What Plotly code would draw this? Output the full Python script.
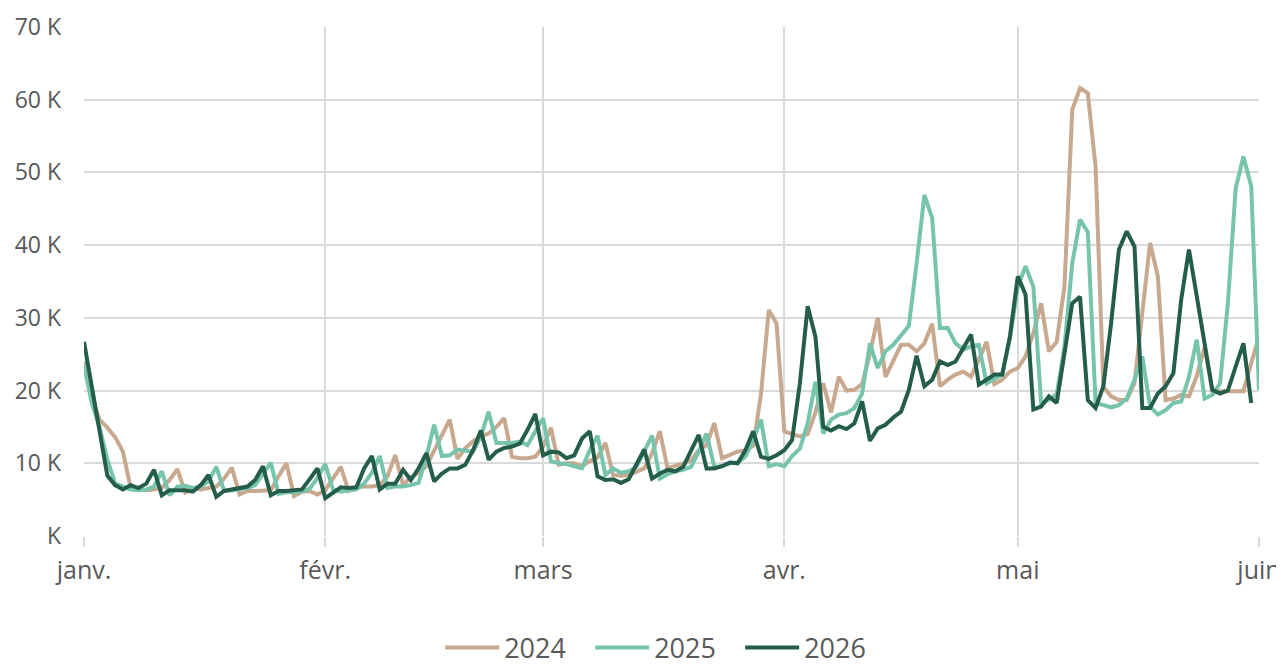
import pandas as pd
import plotly.graph_objects as go

# Daily values (thousands), plotted on a common Jan 1 – Jun 1 calendar
v2024 = [24.0, 19.0, 16.0, 14.9, 13.6, 11.6, 6.6, 6.4, 6.3, 6.4, 6.6, 7.7, 9.2, 6.0, 6.6, 6.4, 6.6, 6.8, 7.9, 9.4,
         5.7, 6.2, 6.2, 6.3, 6.3, 8.2, 10.0, 5.5, 6.1, 6.2, 5.7, 6.3, 7.9, 9.5, 6.2, 6.7, 6.8, 6.8, 7.0, 8.2,
         11.1, 7.0, 8.1, 8.7, 9.6, 11.8, 13.9, 16.0, 10.6, 12.1, 13.0, 13.7, 14.1, 15.0, 16.2, 10.9, 10.7, 10.7, 10.9, 12.3,
         14.9, 9.8, 10.0, 10.0, 9.6, 10.3, 10.8, 12.8, 8.4, 8.3, 8.4, 8.9, 9.3, 11.4, 14.4, 9.3, 9.6, 10.0, 10.4, 11.8,
         12.5, 15.5, 10.7, 11.1, 11.6, 11.8, 12.4, 19.5, 31.1, 29.2, 14.4, 14.0, 13.7, 14.0, 17.0, 21.0, 17.0, 21.9, 20.0, 20.1,
         20.9, 25.1, 30.0, 21.9, 24.2, 26.3, 26.3, 25.4, 26.5, 29.2, 20.6, 21.5, 22.2, 22.6, 21.9, 24.2, 26.7, 20.9, 21.5, 22.6,
         23.1, 24.7, 27.9, 32.0, 25.4, 26.7, 34.3, 58.6, 61.6, 60.9, 50.8, 20.5, 19.2, 18.7, 18.7, 21.0, 31.1, 40.3, 35.7, 18.7,
         18.9, 19.4, 19.2, 22.0, 26.0, 19.9, 19.9, 19.9, 19.9, 19.9, 23.8, 27.4]

v2025 = [23.5, 18.3, 15.0, 10.5, 7.2, 6.8, 6.4, 6.3, 6.4, 6.8, 8.9, 5.6, 6.8, 6.9, 6.6, 6.8, 7.5, 9.5, 6.2, 6.3,
         6.4, 6.6, 7.0, 8.6, 10.1, 5.8, 6.0, 6.0, 6.1, 6.5, 8.0, 9.9, 6.4, 6.1, 6.3, 6.4, 7.2, 8.7, 11.0, 6.6,
         6.8, 6.8, 7.0, 7.3, 10.9, 15.3, 11.0, 11.1, 11.9, 11.7, 11.6, 13.7, 17.1, 12.8, 12.8, 12.8, 13.0, 12.5, 14.4, 16.2,
         10.3, 10.0, 9.9, 9.6, 9.3, 11.8, 13.8, 8.4, 9.3, 8.7, 8.9, 9.5, 11.6, 13.8, 7.9, 8.5, 8.9, 9.1, 9.5, 11.6,
         14.1, 9.5, 9.6, 10.0, 10.1, 10.9, 13.2, 16.0, 9.6, 9.9, 9.6, 11.0, 12.0, 15.5, 21.2, 14.1, 16.0, 16.7, 16.9, 17.6,
         19.6, 26.5, 23.1, 25.4, 26.3, 27.7, 28.9, 37.5, 46.9, 43.7, 28.6, 28.6, 26.5, 25.6, 26.1, 26.3, 21.0, 21.6, 22.2, 27.2,
         34.3, 37.1, 34.3, 18.3, 18.7, 19.5, 26.0, 37.5, 43.5, 41.8, 18.3, 18.0, 17.7, 18.0, 18.9, 21.5, 24.7, 17.8, 16.7, 17.3,
         18.3, 18.5, 21.9, 27.0, 18.9, 19.4, 21.0, 32.0, 47.8, 52.2, 48.1, 20.1]

v2026 = [26.7, 20.3, 14.0, 8.3, 7.0, 6.4, 7.0, 6.6, 7.2, 9.1, 5.6, 6.3, 6.3, 6.3, 6.1, 7.0, 8.4, 5.4, 6.2, 6.4,
         6.6, 6.8, 7.7, 9.6, 5.6, 6.2, 6.2, 6.3, 6.4, 7.8, 9.3, 5.2, 5.9, 6.7, 6.6, 6.7, 9.3, 11.0, 6.4, 7.2,
         7.2, 9.1, 7.7, 9.3, 11.4, 7.5, 8.6, 9.3, 9.3, 9.8, 11.8, 14.5, 10.5, 11.6, 12.1, 12.3, 12.7, 14.6, 16.8, 11.1,
         11.6, 11.5, 10.7, 11.1, 13.4, 14.4, 8.2, 7.7, 7.8, 7.3, 7.8, 9.8, 11.9, 7.9, 8.6, 9.1, 8.9, 9.5, 11.6, 13.9,
         9.3, 9.3, 9.6, 10.1, 10.0, 11.8, 14.4, 10.9, 10.6, 11.1, 11.8, 13.2, 21.0, 31.6, 27.4, 15.0, 14.5, 15.1, 14.7, 15.5,
         18.5, 13.1, 14.8, 15.3, 16.3, 17.1, 20.1, 24.8, 20.6, 21.5, 24.0, 23.5, 24.0, 25.8, 27.7, 20.8, 21.5, 22.2, 22.2, 27.5,
         35.7, 33.2, 17.4, 17.8, 19.2, 18.3, 25.1, 32.0, 32.9, 18.7, 17.6, 20.6, 29.3, 39.4, 41.9, 39.8, 17.6, 17.6, 19.6, 20.6,
         22.4, 32.5, 39.4, 32.9, 26.1, 20.1, 19.6, 20.0, 23.3, 26.5, 18.3]

series_names = ["2024", "2025", "2026"]
series_values = [v2024, v2025, v2026]
colors = ["#C8A88E", "#77C4AD", "#245E4B"]

month_ticks = ["2026-01-01", "2026-02-01", "2026-03-01", "2026-04-01", "2026-05-01", "2026-06-01"]
month_labels = ["janv.", "févr.", "mars", "avr.", "mai", "juin"]
y_ticks = [0, 10, 20, 30, 40, 50, 60, 70]
y_labels = ["K", "10 K", "20 K", "30 K", "40 K", "50 K", "60 K", "70 K"]

fig = go.Figure()
for name, vals, col in zip(series_names, series_values, colors):
    dates = pd.date_range("2026-01-01", periods=len(vals), freq="D")
    fig.add_trace(go.Scatter(x=dates, y=vals, mode="lines", name=name,
                             line=dict(color=col, width=4)))

grid = "#D9D9D9"
txt = "#595959"
fig.update_layout(
    width=1276, height=658,
    margin=dict(l=76, r=25, t=19, b=130),
    plot_bgcolor="white", paper_bgcolor="white",
    font=dict(family="Open Sans, Lato, sans-serif", color=txt),
    showlegend=True,
    legend=dict(orientation="h", xref="container", yref="container",
                x=0.515, xanchor="center", y=0.0274, yanchor="middle",
                font=dict(size=27, color=txt), traceorder="normal",
                itemwidth=54, entrywidth=81, entrywidthmode="pixels"),
    xaxis=dict(type="date", range=["2026-01-01", "2026-06-01"],
               tickvals=month_ticks, ticktext=month_labels,
               showgrid=True, gridcolor=grid, gridwidth=2,
               ticks="outside", ticklen=10, tickcolor=grid, tickwidth=2,
               tickfont=dict(size=25, color=txt), zeroline=False, showline=False,
               automargin=False, ticklabelstandoff=2, ticklabeloverflow="allow"),
    yaxis=dict(range=[0, 70], tickvals=y_ticks, ticktext=y_labels,
               showgrid=True, gridcolor=grid, gridwidth=2,
               tickfont=dict(size=23, color=txt), zeroline=False, showline=False,
               ticks="", ticklabelstandoff=22, automargin=False),
)

fig.write_html("out.html")
